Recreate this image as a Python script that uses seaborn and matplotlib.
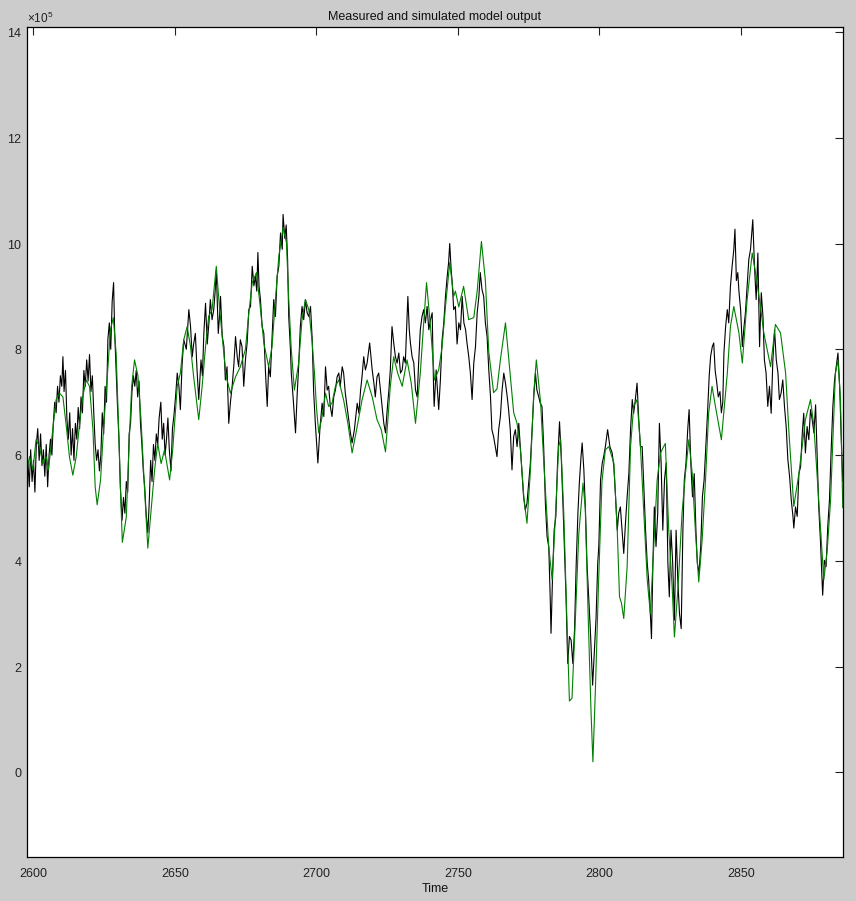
import matplotlib
matplotlib.use("Agg")
import matplotlib.pyplot as plt
import matplotlib.ticker as mticker
from matplotlib import font_manager
import seaborn as sns
import pandas as pd

# ---------------- data (values in units of 1e5) ----------------
title_text = "Measured and simulated model output"
xlabel_text = "Time"
x_ticks = [2600, 2650, 2700, 2750, 2800, 2850]
y_ticks = [0, 2, 4, 6, 8, 10, 12, 14]
x_limits = (2597.6, 2886.2)
y_limits = (-1.6, 14.1)

measured_a = [
    (2597.5, 5.3), (2598.0, 5.9), (2598.5, 5.4), (2599.0, 6.1), (2599.5, 5.5), (2600.0, 5.9),
    (2600.5, 5.3), (2601.0, 6.2), (2601.5, 6.5), (2602.0, 5.9), (2602.5, 6.4), (2603.0, 5.8),
    (2603.5, 6.1), (2604.0, 5.6), (2604.5, 6.2), (2605.0, 5.4), (2605.5, 6.0), (2606.0, 6.3),
    (2606.5, 6.0), (2607.0, 6.6), (2607.5, 7.0), (2608.0, 6.8), (2608.5, 7.3), (2609.0, 7.0),
    (2609.5, 7.5), (2610.0, 7.3), (2610.4, 7.86), (2610.8, 7.2), (2611.3, 7.6), (2611.8, 6.7),
    (2612.3, 6.3), (2612.8, 6.8), (2613.3, 6.0), (2613.8, 6.5), (2614.3, 5.9), (2614.8, 6.6),
    (2615.3, 6.3), (2615.8, 6.9), (2616.3, 6.5), (2616.8, 7.1), (2617.3, 6.8), (2617.8, 7.6),
    (2618.3, 7.3), (2618.8, 7.8), (2619.3, 7.4), (2619.8, 7.9), (2620.3, 7.2), (2620.8, 7.5),
    (2621.3, 6.8), (2621.8, 6.2), (2622.3, 5.9), (2622.8, 6.1), (2623.3, 5.7), (2623.8, 6.0),
    (2624.3, 6.8), (2624.8, 6.4), (2625.3, 7.3), (2625.8, 7.0), (2626.3, 8.2), (2626.8, 8.5),
    (2627.3, 8.0), (2627.8, 8.9), (2628.3, 9.26), (2628.7, 8.3), (2629.2, 7.6), (2629.7, 6.9),
    (2630.2, 6.3), (2630.7, 5.4), (2631.3, 4.77), (2631.8, 5.2), (2632.3, 4.9), (2632.8, 5.5),
    (2633.3, 5.3), (2633.8, 6.4), (2634.3, 6.6), (2634.8, 7.2), (2635.3, 7.5), (2635.8, 7.3),
    (2636.3, 7.6), (2636.8, 7.1), (2637.3, 7.4), (2637.8, 6.6), (2638.3, 6.2), (2638.8, 5.7),
    (2639.3, 5.4), (2639.8, 4.9), (2640.4, 4.53), (2640.9, 5.1), (2641.4, 5.9), (2641.9, 5.5),
    (2642.4, 6.2), (2642.9, 5.9), (2643.4, 6.4), (2643.9, 6.2), (2644.4, 6.7), (2645.0, 7.0),
    (2645.5, 6.3), (2646.0, 6.6), (2646.5, 6.0), (2647.0, 6.3), (2647.5, 6.7), (2648.0, 6.1),
    (2648.6, 5.7), (2649.1, 6.5),
]
measured_b = [
    (2649.6, 6.73), (2650.2, 7.1), (2650.8, 7.55), (2651.4, 7.3), (2651.9, 6.86), (2652.5, 7.7),
    (2653.1, 8.18), (2654.0, 8.0), (2654.9, 8.75), (2655.5, 8.43), (2656.1, 7.86), (2656.6, 8.1),
    (2657.2, 8.3), (2657.8, 7.6), (2658.4, 7.05), (2659.2, 7.8), (2659.7, 7.5), (2660.2, 8.3),
    (2660.8, 8.87), (2661.4, 8.1), (2662.0, 8.5), (2662.5, 8.94), (2663.1, 8.56), (2663.7, 8.75),
    (2664.2, 9.1), (2664.6, 9.5), (2665.3, 8.3), (2665.7, 8.6), (2666.1, 9.0), (2666.7, 8.25),
    (2667.3, 8.05), (2667.8, 7.42), (2668.4, 7.67), (2669.0, 6.6), (2669.6, 7.0), (2670.2, 7.3),
    (2670.8, 7.7), (2671.4, 8.24), (2672.0, 7.86), (2672.5, 7.67), (2673.1, 8.18), (2673.7, 8.05),
    (2674.3, 7.3), (2674.9, 7.8), (2675.5, 8.12), (2676.1, 8.75), (2676.7, 8.81), (2677.3, 9.57),
    (2677.9, 9.2), (2678.4, 9.38), (2678.9, 9.1), (2679.3, 9.83), (2679.7, 9.2), (2680.2, 8.94),
    (2680.8, 8.43), (2681.4, 8.3), (2682.0, 7.55), (2682.6, 6.92), (2683.1, 7.67), (2683.7, 7.48),
    (2684.3, 8.2), (2684.9, 8.94), (2685.5, 8.62), (2686.1, 9.38), (2686.7, 9.57), (2687.3, 10.2),
    (2687.9, 9.89), (2688.2, 10.55), (2688.8, 10.1), (2689.3, 10.35), (2689.8, 9.7), (2690.2, 8.62),
    (2690.8, 8.0), (2691.1, 7.55), (2691.8, 7.05), (2692.6, 6.42), (2693.2, 7.17), (2693.7, 7.67),
    (2694.3, 8.43), (2694.9, 8.81), (2695.5, 8.56), (2696.1, 8.94), (2696.7, 8.69), (2697.3, 8.62),
    (2697.9, 8.81), (2698.5, 8.18), (2699.0, 7.2), (2699.6, 6.6),
]
measured_c = [
    (2700.5, 5.85), (2701.2, 6.48), (2702.0, 6.98), (2702.6, 6.73), (2703.2, 7.67), (2703.8, 7.23),
    (2704.3, 7.3), (2704.9, 6.92), (2705.5, 6.73), (2706.1, 7.1), (2706.7, 7.23), (2707.3, 7.48),
    (2707.9, 7.55), (2708.4, 7.3), (2709.1, 7.67), (2709.6, 7.55), (2710.2, 7.17), (2710.8, 6.92),
    (2711.4, 6.67), (2712.0, 6.42), (2712.6, 6.23), (2713.4, 6.48), (2714.4, 6.98), (2715.0, 6.79),
    (2715.6, 7.23), (2716.1, 7.48), (2716.7, 7.86), (2717.3, 7.61), (2717.9, 7.74), (2718.8, 8.12),
    (2719.7, 7.61), (2720.3, 7.36), (2720.8, 7.1), (2721.4, 7.48), (2722.0, 7.55), (2722.6, 7.23),
    (2723.2, 6.92), (2723.8, 6.6), (2724.4, 6.42), (2725.0, 6.86), (2725.6, 7.23), (2726.1, 7.61),
    (2726.7, 8.43), (2727.3, 8.12), (2727.9, 7.86), (2728.5, 7.74), (2729.1, 7.93), (2729.7, 7.55),
    (2730.3, 7.61), (2730.8, 7.86), (2731.4, 7.74), (2732.3, 9.0), (2732.8, 8.37), (2733.2, 8.12),
    (2733.8, 7.86), (2734.4, 7.74), (2735.0, 7.23), (2735.6, 7.1), (2736.1, 7.74), (2736.7, 8.37),
    (2737.3, 8.62), (2737.9, 8.75), (2738.5, 8.5), (2739.1, 8.81), (2739.7, 8.37), (2740.3, 8.56),
    (2740.9, 8.69), (2741.4, 7.23), (2741.6, 6.92), (2742.3, 7.61), (2743.2, 6.86), (2743.8, 7.42),
    (2744.4, 8.18), (2745.0, 8.5), (2745.6, 9.0), (2746.1, 9.32), (2746.7, 9.64), (2747.1, 10.0),
    (2747.6, 9.5), (2747.9, 9.32), (2748.5, 8.75), (2749.1, 8.81), (2749.7, 8.1), (2750.3, 8.5),
    (2750.9, 8.37), (2751.5, 9.0),
]
measured_d = [
    (2752.1, 8.5), (2752.7, 8.37), (2753.2, 8.12), (2753.8, 7.87), (2754.4, 7.55), (2755.0, 7.05),
    (2755.6, 7.74), (2756.2, 8.05), (2756.8, 8.69), (2757.4, 9.0), (2757.9, 9.45), (2758.5, 9.13),
    (2759.1, 9.0), (2759.7, 8.5), (2760.3, 8.24), (2760.9, 7.61), (2761.5, 7.11), (2762.0, 6.48),
    (2762.6, 6.35), (2763.2, 6.16), (2763.8, 5.97), (2764.4, 6.48), (2765.0, 6.73), (2765.6, 7.23),
    (2766.2, 7.55), (2766.8, 7.36), (2767.4, 7.11), (2767.9, 6.86), (2768.5, 6.48), (2769.1, 5.72),
    (2769.7, 6.35), (2770.3, 6.48), (2770.9, 6.16), (2771.5, 6.6), (2772.1, 6.1), (2772.7, 5.6),
    (2773.2, 5.21), (2773.8, 4.96), (2774.4, 5.09), (2775.0, 5.47), (2775.6, 5.85), (2776.2, 6.48),
    (2776.8, 7.11), (2777.4, 7.55), (2777.9, 7.23), (2778.5, 7.11), (2779.1, 6.98), (2779.7, 6.92),
    (2780.3, 6.16), (2780.9, 5.09), (2781.5, 4.46), (2782.1, 4.26), (2782.6, 3.32), (2782.9, 2.63),
    (2783.4, 3.64), (2784.0, 4.58), (2784.6, 4.84), (2785.2, 5.85), (2785.9, 6.63), (2786.5, 5.97),
    (2787.1, 5.09), (2787.6, 4.26), (2788.2, 3.32), (2788.8, 2.06), (2789.4, 2.57), (2790.0, 2.5),
    (2790.6, 2.06), (2791.2, 2.69), (2791.8, 3.95), (2792.4, 4.9), (2792.9, 5.47), (2793.5, 5.97),
    (2793.9, 6.23), (2794.5, 5.72), (2795.1, 4.9), (2795.6, 3.95), (2796.2, 3.32), (2796.8, 2.69),
    (2797.6, 1.65), (2798.3, 2.38), (2798.8, 2.9), (2799.4, 3.95), (2799.8, 4.3), (2800.4, 5.53),
    (2801.0, 5.85), (2801.5, 5.97),
]
measured_e = [
    (2802.1, 6.16), (2802.9, 6.48), (2803.7, 6.16), (2804.5, 6.04), (2805.1, 5.78), (2805.7, 5.21),
    (2806.3, 4.58), (2806.8, 4.9), (2807.4, 5.02), (2808.0, 4.58), (2808.6, 4.14), (2809.2, 4.71),
    (2809.8, 5.21), (2810.4, 5.65), (2811.0, 6.48), (2811.6, 7.05), (2812.1, 6.79), (2812.7, 7.05),
    (2813.3, 7.36), (2813.9, 6.67), (2814.5, 6.16), (2815.1, 6.16), (2815.7, 5.4), (2816.3, 4.58),
    (2816.9, 3.95), (2817.4, 3.64), (2818.0, 3.0), (2818.4, 2.53), (2818.9, 3.95), (2819.4, 5.02),
    (2820.0, 4.27), (2820.6, 4.9), (2821.2, 6.6), (2821.8, 5.85), (2822.4, 4.58), (2823.0, 5.53),
    (2823.6, 5.85), (2824.2, 3.95), (2824.7, 3.32), (2825.3, 4.58), (2825.9, 3.95), (2826.5, 2.88),
    (2827.1, 4.58), (2827.7, 3.64), (2828.3, 3.0), (2828.9, 2.72), (2829.5, 4.58), (2830.0, 5.53),
    (2830.6, 5.85), (2831.2, 6.48), (2831.7, 6.86), (2832.3, 5.85), (2832.9, 5.21), (2833.5, 5.65),
    (2834.1, 4.58), (2834.6, 3.95), (2835.2, 3.77), (2835.8, 4.27), (2836.4, 5.21), (2837.0, 5.53),
    (2837.6, 6.16), (2838.2, 6.79), (2838.8, 7.5), (2839.3, 7.87), (2839.9, 8.05), (2840.4, 8.12),
    (2840.9, 7.6), (2841.4, 7.4), (2842.0, 7.1), (2842.6, 7.2), (2843.1, 6.8), (2843.6, 7.0),
]
measured_f = [
    (2844.0, 7.93), (2844.6, 8.43), (2845.2, 8.75), (2845.7, 8.5), (2846.3, 9.19), (2846.9, 9.57),
    (2847.5, 9.89), (2847.9, 10.27), (2848.4, 9.3), (2848.9, 9.45), (2849.3, 9.1), (2849.9, 8.75),
    (2850.5, 8.05), (2851.1, 8.43), (2851.6, 8.69), (2852.2, 9.19), (2852.8, 9.7), (2853.4, 9.89),
    (2854.2, 10.45), (2854.8, 9.57), (2855.4, 8.94), (2856.0, 9.82), (2856.6, 8.05), (2857.2, 9.07),
    (2857.8, 8.62), (2858.3, 7.8), (2858.9, 7.55), (2859.5, 6.92), (2860.1, 7.3), (2860.7, 6.79),
    (2861.3, 7.8), (2861.9, 8.37), (2862.5, 7.8), (2863.1, 7.55), (2863.6, 7.05), (2864.2, 7.17),
    (2864.8, 7.42), (2865.4, 6.92), (2866.0, 6.54), (2866.6, 5.91), (2867.2, 5.6), (2867.8, 5.15),
    (2868.4, 4.84), (2868.7, 4.62), (2869.3, 5.02), (2869.9, 4.84), (2870.5, 5.65), (2871.1, 5.78),
    (2871.7, 6.42), (2872.2, 6.79), (2872.8, 6.04), (2873.4, 6.54), (2874.0, 6.29), (2874.6, 6.86),
    (2875.2, 6.67), (2875.8, 6.42), (2876.4, 6.95), (2877.0, 5.91), (2877.5, 5.02), (2878.1, 4.39),
    (2878.9, 3.35), (2879.5, 4.01), (2880.1, 3.89), (2880.7, 4.65), (2881.3, 5.15), (2881.9, 6.1),
    (2882.5, 6.92), (2883.1, 7.42), (2883.7, 7.67), (2884.3, 7.93), (2884.9, 7.3), (2885.4, 6.42),
    (2886.0, 5.5),
]
simulated = [
    (2597.4, 5.59), (2598.6, 5.97), (2599.8, 5.72), (2600.9, 6.29), (2602.1, 6.16), (2603.3, 5.84),
    (2604.5, 5.97), (2605.3, 5.72), (2606.8, 6.48), (2608.0, 7.05), (2609.2, 7.17), (2610.4, 7.1),
    (2611.6, 6.54), (2612.7, 5.97), (2613.9, 5.62), (2615.1, 5.97), (2616.3, 6.6), (2617.4, 7.1),
    (2618.6, 7.42), (2619.8, 7.3), (2621.0, 6.48), (2621.8, 5.4), (2622.5, 5.06), (2623.7, 5.53),
    (2624.8, 6.54), (2626.0, 7.42), (2627.2, 8.37), (2628.2, 8.6), (2629.2, 7.93), (2630.0, 6.67),
    (2630.7, 5.4), (2631.4, 4.35), (2632.8, 4.83), (2633.9, 6.35), (2634.7, 7.3), (2635.7, 7.8),
    (2636.9, 7.5), (2638.0, 6.67), (2639.2, 5.4), (2640.4, 4.24), (2641.6, 4.97), (2642.8, 5.72),
    (2643.9, 6.22), (2645.1, 5.84), (2646.3, 6.1), (2648.1, 5.53), (2649.2, 6.1), (2650.8, 7.3),
    (2651.9, 7.55), (2653.1, 8.18), (2654.3, 8.43), (2655.5, 8.05), (2656.6, 7.48), (2658.4, 6.67),
    (2659.6, 7.3), (2660.8, 8.05), (2661.9, 8.62), (2663.1, 8.75), (2664.6, 9.57), (2665.7, 8.81),
    (2666.9, 8.12), (2668.1, 7.48), (2669.6, 7.17), (2671.4, 7.48), (2673.1, 7.67), (2674.9, 8.0),
    (2676.1, 8.69), (2677.3, 9.26), (2678.8, 9.45), (2680.0, 8.87), (2681.4, 8.12), (2683.1, 7.67),
    (2684.3, 8.05), (2685.5, 8.94), (2686.7, 9.76), (2688.2, 10.3), (2689.4, 10.02), (2690.2, 8.94),
    (2691.1, 8.0), (2692.2, 7.23), (2693.7, 7.74), (2694.9, 8.56), (2696.1, 8.94), (2697.3, 8.75),
    (2698.5, 8.12), (2699.3, 7.55), (2700.0, 6.9), (2700.8, 6.42), (2702.0, 6.73), (2703.2, 7.17),
    (2704.3, 6.92), (2705.5, 6.98), (2706.7, 7.3), (2707.9, 7.42), (2709.6, 7.04), (2711.1, 6.6),
    (2712.6, 6.04), (2714.4, 6.54), (2716.1, 7.04), (2717.9, 7.42), (2719.7, 7.1), (2721.4, 6.67),
    (2722.9, 6.48), (2724.4, 6.06), (2726.1, 7.3), (2727.3, 7.86), (2728.7, 7.55), (2730.3, 7.3),
    (2732.0, 7.8), (2733.5, 7.36), (2735.0, 6.6), (2736.7, 7.55), (2737.9, 8.5), (2738.9, 9.26),
    (2740.3, 8.43), (2741.7, 7.42), (2743.2, 7.61), (2744.4, 8.05), (2745.6, 8.81), (2747.1, 9.64),
    (2748.5, 9.0), (2749.1, 9.1), (2750.3, 8.8), (2752.0, 9.19), (2753.8, 8.56), (2755.6, 8.6),
    (2756.8, 9.1), (2758.3, 10.04), (2759.7, 9.3), (2760.9, 7.95), (2762.6, 7.18), (2763.8, 7.25),
    (2765.0, 7.8), (2766.8, 8.5), (2768.0, 7.8), (2769.7, 6.8), (2770.9, 6.6), (2772.1, 6.1),
    (2773.3, 5.2), (2774.4, 4.71), (2775.6, 5.7), (2776.8, 7.18), (2777.7, 7.8), (2779.2, 7.0),
    (2780.3, 5.9), (2782.1, 4.26), (2783.3, 3.64), (2784.5, 4.9), (2785.6, 6.16), (2786.3, 6.3),
    (2787.4, 4.9), (2788.6, 2.7), (2789.4, 1.35), (2790.3, 1.4), (2791.5, 2.9), (2792.7, 4.5),
    (2794.2, 5.47), (2795.0, 5.0), (2796.0, 3.0), (2797.0, 1.2), (2797.7, 0.2), (2798.6, 1.6),
    (2799.7, 3.6), (2800.9, 5.5), (2802.1, 6.1), (2803.3, 6.16), (2805.1, 5.85), (2806.3, 4.58),
    (2807.1, 3.32), (2807.8, 3.2), (2808.6, 2.91), (2809.8, 3.89), (2811.0, 6.16), (2812.1, 6.92),
    (2813.3, 7.05), (2814.5, 6.16), (2815.7, 4.9), (2816.9, 3.64), (2818.0, 3.0), (2819.2, 4.27),
    (2820.4, 5.53), (2821.6, 6.04), (2822.7, 6.16), (2823.3, 6.22), (2824.5, 4.58), (2825.7, 3.51),
    (2826.5, 2.56), (2827.8, 3.51), (2829.2, 4.9), (2830.4, 5.65), (2831.6, 6.29), (2832.8, 5.65),
    (2833.9, 4.58), (2835.1, 3.6), (2836.3, 4.39), (2837.5, 5.53), (2838.6, 6.79), (2839.8, 7.3),
    (2841.0, 6.92), (2843.1, 6.29), (2845.2, 7.55), (2846.3, 8.43), (2847.5, 8.81), (2849.3, 8.31),
    (2850.5, 7.74), (2852.2, 8.94), (2854.0, 9.82), (2855.2, 9.44), (2856.9, 8.81), (2858.1, 8.31),
    (2860.5, 7.67), (2862.2, 8.47), (2864.0, 8.31), (2865.8, 7.55), (2867.0, 6.41), (2868.7, 5.03),
    (2870.5, 5.65), (2872.8, 6.67), (2874.6, 7.05), (2875.8, 6.54), (2877.5, 5.15), (2879.3, 3.64),
    (2880.5, 4.2), (2881.7, 5.15), (2882.8, 6.73), (2883.4, 7.55), (2884.3, 7.8), (2885.2, 7.05),
    (2886.0, 5.0),
]
SCALE = 1e5

# ---------------- build tables ----------------
measured = measured_a + measured_b + measured_c + measured_d + measured_e + measured_f
df_meas = pd.DataFrame(measured, columns=["Time", "y"])
df_meas["y"] *= SCALE
df_sim = pd.DataFrame(simulated, columns=["Time", "y"])
df_sim["y"] *= SCALE

# ---------------- style ----------------
sns.set_style("white")
available = {f.name for f in font_manager.fontManager.ttflist}
fam = [f for f in ["Liberation Sans Narrow", "Liberation Sans", "DejaVu Sans"] if f in available]
plt.rcParams["font.family"] = fam
plt.rcParams["mathtext.fontset"] = "custom"
plt.rcParams["mathtext.rm"] = fam[0]
plt.rcParams["mathtext.it"] = fam[0]

fig = plt.figure(figsize=(8.56, 9.01), dpi=100, facecolor="#cccccc")
ax = fig.add_axes([0.0312, 0.0488, 0.9540, 0.9216])
ax.set_facecolor("white")

sns.lineplot(data=df_meas, x="Time", y="y", ax=ax, color="black", lw=0.8,
             sort=False, estimator=None)
sns.lineplot(data=df_sim, x="Time", y="y", ax=ax, color="#008000", lw=0.8,
             sort=False, estimator=None)

ax.set_xlim(*x_limits)
ax.set_ylim(y_limits[0] * SCALE, y_limits[1] * SCALE)
ax.set_xticks(x_ticks)
ax.set_yticks([v * SCALE for v in y_ticks])

fmt = mticker.ScalarFormatter(useMathText=True)
fmt.set_powerlimits((5, 5))
ax.yaxis.set_major_formatter(fmt)
ax.yaxis.get_offset_text().set_fontsize(8.5)
ax.yaxis.get_offset_text().set_color("#333333")

ax.tick_params(axis="both", which="major", direction="in", length=6, width=0.8,
               labelsize=9, colors="#222222", top=True, right=True)
ax.tick_params(axis="x", pad=8)
ax.tick_params(axis="y", pad=3)

for sp in ax.spines.values():
    sp.set_visible(True)
    sp.set_color("black")
    sp.set_linewidth(0.9)

ax.set_title(title_text, fontsize=9, pad=5, color="#111111")
ax.set_xlabel(xlabel_text, fontsize=9, labelpad=2, color="#111111")
ax.set_ylabel("")

fig.savefig("out.png", dpi=100, facecolor=fig.get_facecolor())
